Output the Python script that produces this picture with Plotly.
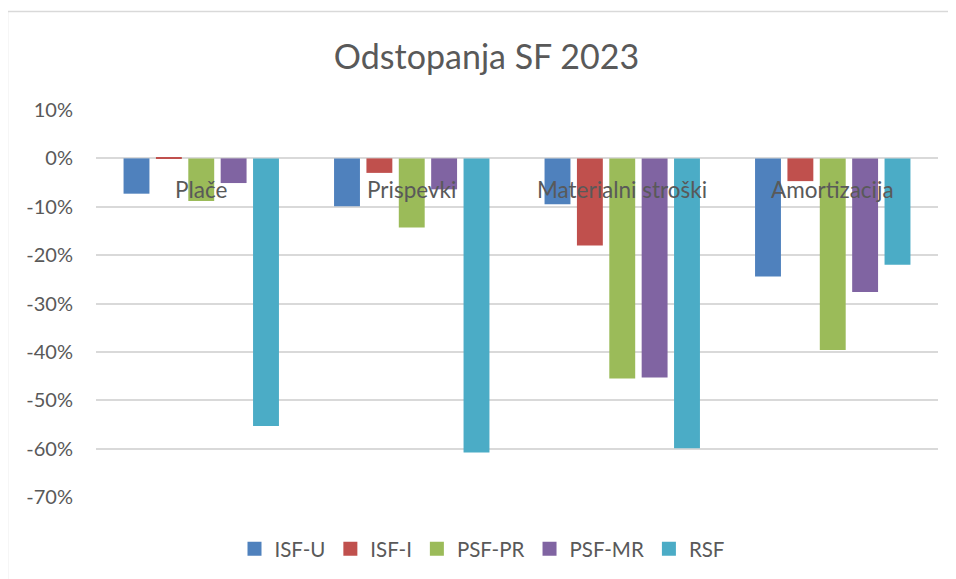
import plotly.graph_objects as go

categories = ["Plače", "Prispevki", "Materialni stroški", "Amortizacija"]
series_names = ["ISF-U", "ISF-I", "PSF-PR", "PSF-MR", "RSF"]
isf_u = [-0.073, -0.099, -0.095, -0.244]
isf_i = [0.001, -0.030, -0.180, -0.047]
psf_pr = [-0.088, -0.143, -0.455, -0.396]
psf_mr = [-0.051, -0.064, -0.453, -0.276]
rsf = [-0.553, -0.608, -0.599, -0.220]
colors = ["#4F81BD", "#C0504D", "#9BBB59", "#8064A2", "#4BACC6"]
tick_vals = [0.1, 0.0, -0.1, -0.2, -0.3, -0.4, -0.5, -0.6, -0.7]
tick_text = ["10%", "0%", "-10%", "-20%", "-30%", "-40%", "-50%", "-60%", "-70%"]

FONT = "Lato"
TXT = "#595959"
W, H = 948, 571
L, R, T, B = 88, 18, 102, 82
PW, PH = W - L - R, H - T - B

fig = go.Figure()
for name, vals, col in zip(series_names, [isf_u, isf_i, psf_pr, psf_mr, rsf], colors):
    fig.add_trace(go.Bar(name=name, x=categories, y=vals, showlegend=False,
                         marker=dict(color=col, line=dict(width=0))))
for name, col in zip(series_names, colors):
    fig.add_trace(go.Scatter(name=name, x=[None], y=[None], mode="markers",
                             marker=dict(symbol="square", size=14, color=col)))

for c in categories:
    fig.add_annotation(x=c, y=0, xref="x", yref="y", text=c, showarrow=False,
                       yanchor="middle", yshift=-31, font=dict(family=FONT, size=22.5, color=TXT))

fig.update_layout(
    width=W, height=H,
    paper_bgcolor="white", plot_bgcolor="white",
    margin=dict(l=L, r=R, t=T, b=B),
    barmode="group", bargap=0.231, bargroupgap=0.2,
    title=dict(text="Odstopanja SF 2023", x=478.5 / W, xanchor="center", y=1 - 49 / H, yanchor="middle",
               xref="container", yref="container",
               font=dict(family=FONT, size=34, color=TXT)),
    legend=dict(orientation="h", xref="container", x=0.5, xanchor="center", y=1 - 541 / H, yref="container",
                yanchor="middle", font=dict(family=FONT, size=20.5, color=TXT), itemwidth=30,
                traceorder="normal"),
    showlegend=True,
    font=dict(family=FONT, color=TXT),
)
fig.update_xaxes(showticklabels=False, showgrid=False, showline=False, zeroline=False)
fig.update_yaxes(range=[-0.7, 0.1], tickvals=tick_vals, ticktext=tick_text,
                 showgrid=True, gridcolor="#D9D9D9", gridwidth=1.5, zeroline=True, zerolinecolor="#D9D9D9",
                 zerolinewidth=1.5, showline=False, ticks="", ticklabelstandoff=22,
                 tickfont=dict(family=FONT, size=20, color=TXT))
fig.add_shape(type="rect", xref="paper", yref="paper",
              x0=(-0.5 - L) / PW, x1=(W + 20 - L) / PW, y0=-(B + 20) / PH, y1=(PH + T - 3.5) / PH,
              line=dict(color="#D9D9D9", width=1.5), fillcolor="rgba(0,0,0,0)", layer="below")
fig.write_html("out.html")
